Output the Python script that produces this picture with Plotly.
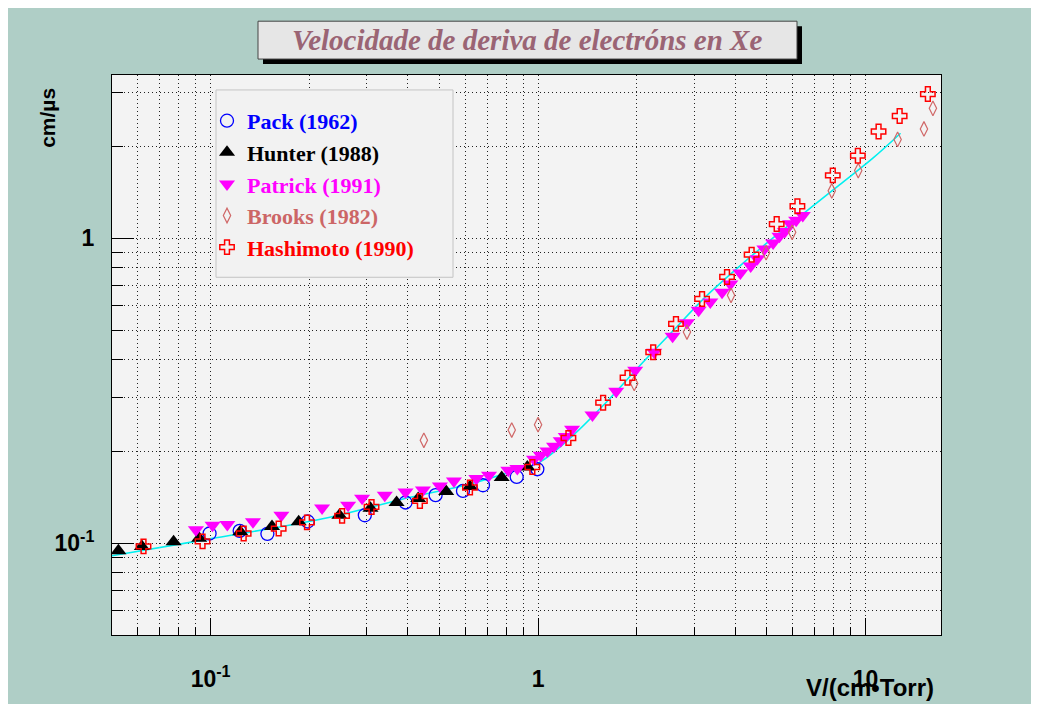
import math
import plotly.graph_objects as go

# ---------------- data ----------------
pack_x = [0.0993, 0.1227, 0.1491, 0.198, 0.2958, 0.3938, 0.4866, 0.5898, 0.6789, 0.8607, 0.995]
pack_y = [0.1076, 0.1098, 0.1073, 0.1178, 0.1235, 0.136, 0.1437, 0.1484, 0.1549, 0.1649, 0.1748]

hunter_x = [0.0523, 0.0617, 0.0771, 0.0923, 0.1232, 0.154, 0.1858, 0.2474, 0.3078,
            0.3698, 0.4304, 0.5242, 0.6195, 0.7745, 0.9275]
hunter_y = [0.0944, 0.0976, 0.1011, 0.1039, 0.109, 0.1135, 0.1175, 0.1235, 0.1302,
            0.136, 0.1401, 0.1477, 0.1534, 0.1642, 0.1778]

patrick_x = [0.0902, 0.1014, 0.1125, 0.1347, 0.1645, 0.219, 0.263, 0.2902, 0.3404, 0.3938,
             0.4451, 0.5015, 0.5535, 0.6477, 0.7082, 0.8112, 0.8643, 0.972, 1.019, 1.068,
             1.119, 1.173, 1.215, 1.27, 1.466, 1.732, 1.98, 2.263, 2.575, 2.849,
             3.092, 3.357, 3.646, 3.865, 4.147, 4.459, 4.675, 4.911, 5.221, 5.458,
             5.673, 5.885, 6.14, 6.432]
patrick_y = [0.1106, 0.1146, 0.1152, 0.1175, 0.1235, 0.1305, 0.1332, 0.1405, 0.1437, 0.1473,
             0.1495, 0.1541, 0.16, 0.1629, 0.167, 0.1734, 0.1757, 0.1884, 0.1942, 0.2006,
             0.2078, 0.2167, 0.2236, 0.2362, 0.2634, 0.3152, 0.3693, 0.4229, 0.4772, 0.5279,
             0.5804, 0.6174, 0.6647, 0.7081, 0.7692, 0.8111, 0.8568, 0.9219, 0.9645, 1.015,
             1.053, 1.115, 1.145, 1.187]

brooks_x = [0.448, 0.831, 1.0, 1.966, 2.849, 3.884, 4.97, 5.969, 7.887, 9.5, 12.53, 15.08, 16.06]
brooks_y = [0.2175, 0.235, 0.2447, 0.3342, 0.4925, 0.6499, 0.8966, 1.046, 1.43, 1.667, 2.109, 2.282, 2.667]

hashimoto_x = [0.0624, 0.0945, 0.1262, 0.1614, 0.197, 0.2521, 0.3101, 0.4357, 0.6195, 0.9607,
               1.238, 1.58, 1.876, 2.247, 2.637, 3.168, 3.776, 4.489, 5.354, 6.194,
               7.943, 9.474, 10.96, 12.71, 15.5]
hashimoto_y = [0.0976, 0.1014, 0.1076, 0.1117, 0.117, 0.1229, 0.1315, 0.1376, 0.1523, 0.1778,
               0.2213, 0.2889, 0.3488, 0.4229, 0.5239, 0.6324, 0.7465, 0.8831, 1.113, 1.273,
               1.608, 1.865, 2.239, 2.517, 2.971]

fit_x = [0.05, 0.0986, 0.2296, 0.3846, 0.615, 0.875, 1.007, 1.273, 1.611, 2.037, 2.575,
         3.257, 4.119, 5.207, 6.587, 8.327, 10.53, 12.79]
fit_y = [0.091, 0.1031, 0.1215, 0.1394, 0.1561, 0.1748, 0.1838, 0.2246, 0.2889, 0.3805, 0.4955,
         0.645, 0.8087, 1.0, 1.224, 1.496, 1.83, 2.209]

x_major = [0.1, 1, 10]
x_major_text = ["10<sup>-1</sup>", "1", "10"]
x_minor = [0.06, 0.07, 0.08, 0.09, 0.2, 0.3, 0.4, 0.5, 0.6, 0.7, 0.8, 0.9,
           2, 3, 4, 5, 6, 7, 8, 9]
y_major = [0.1, 1]
y_major_text = ["10<sup>-1</sup>", "1"]
y_minor = [0.06, 0.07, 0.08, 0.09, 0.2, 0.3, 0.4, 0.5, 0.6, 0.7, 0.8, 0.9, 2, 3]

title_text = "Velocidade de deriva de electróns en Xe"
x_title = "V/(cm•Torr)"
y_title = "cm/µs"

# ---------------- layout geometry (pixels) ----------------
OFF = 8                      # page body margin in the browser
W, H = 1039 - OFF, 704 - OFF
L, T = 112 - OFF, 75 - OFF
R = W - (941 - OFF)
B = H - (637 - OFF)
PW, PH = W - L - R, H - T - B


def px(xs):
    """screen x (page pixels) -> paper x"""
    return (xs - OFF - L) / PW


def py(ys):
    """screen y (page pixels) -> paper y"""
    return (H - B - (ys - OFF)) / PH


BG = "#afcec6"
PLOT_BG = "#f3f3f3"
GRID = "#222222"
SERIF = "Liberation Serif"
SANS = "Liberation Sans"

fig = go.Figure()

fig.add_trace(go.Scatter(x=fit_x, y=fit_y, mode="lines", line=dict(color="#00f0f0", width=1.6, shape="spline"),
                         showlegend=False, hoverinfo="skip"))


def lab(txt, col):
    return '<span style="color:%s">%s</span>' % (col, txt)


fig.add_trace(go.Scatter(x=pack_x, y=pack_y, mode="markers", name=lab("Pack (1962)", "#0000ff"),
                         marker=dict(symbol="circle-open", size=13, color="#0000ff", line=dict(width=1.3))))
fig.add_trace(go.Scatter(x=hunter_x, y=hunter_y, mode="markers", name=lab("Hunter (1988)", "#000000"),
                         marker=dict(symbol="triangle-up", size=14, color="#000000")))
fig.add_trace(go.Scatter(x=patrick_x, y=patrick_y, mode="markers", name=lab("Patrick (1991)", "#ff00ff"),
                         marker=dict(symbol="triangle-down", size=14, color="#ff00ff")))
fig.add_trace(go.Scatter(x=brooks_x, y=brooks_y, mode="markers", name=lab("Brooks (1982)", "#cc6666"),
                         marker=dict(symbol="diamond-tall-open", size=10.5, color="#d06868", line=dict(width=1.2))))
fig.add_trace(go.Scatter(x=hashimoto_x, y=hashimoto_y, mode="markers", name=lab("Hashimoto (1990)", "#ff0000"),
                         marker=dict(symbol="cross-open", size=12, color="#ff0000", line=dict(width=1.5))))

axis_common = dict(
    type="log", tickmode="array", ticks="inside", tickcolor="black", tickwidth=1,
    showgrid=True, gridcolor=GRID, gridwidth=1, griddash="1px,3px",
    showline=True, linecolor="black", linewidth=1, mirror=True, zeroline=False,
    tickfont=dict(family=SANS, size=23, color="black", weight="bold"),
)

fig.update_layout(
    width=W, height=H, autosize=False,
    margin=dict(l=L, r=R, t=T, b=B, pad=0),
    paper_bgcolor=BG, plot_bgcolor=PLOT_BG,
    xaxis=dict(axis_common, range=[math.log10(0.05), math.log10(17)],
               tickvals=x_major, ticktext=x_major_text, ticklen=17, ticklabelstandoff=23,
               minor=dict(tickmode="array", tickvals=x_minor, ticks="inside", ticklen=8, tickcolor="black",
                          showgrid=True, gridcolor=GRID, gridwidth=1, griddash="1px,3px")),
    yaxis=dict(axis_common, range=[math.log10(0.05), math.log10(3.43)],
               tickvals=y_major, ticktext=y_major_text, ticklen=22, ticklabelstandoff=12,
               minor=dict(tickmode="array", tickvals=y_minor, ticks="inside", ticklen=11, tickcolor="black",
                          showgrid=True, gridcolor=GRID, gridwidth=1, griddash="1px,3px")),
    showlegend=True,
    legend=dict(x=px(207), y=py(100), xanchor="left", yanchor="top", bgcolor="rgba(0,0,0,0)",
                borderwidth=0, font=dict(family=SERIF, size=22, weight="bold"), traceorder="normal"),
    shapes=[
        dict(type="rect", xref="paper", yref="paper", x0=px(263), x1=px(802), y0=py(64), y1=py(26),
             fillcolor="black", line=dict(width=0), layer="above"),
        dict(type="rect", xref="paper", yref="paper", x0=px(258), x1=px(797), y0=py(59), y1=py(21),
             fillcolor="#e6e6e6", line=dict(color="#444444", width=1), layer="above"),
        dict(type="rect", xref="paper", yref="paper", x0=px(216), x1=px(453), y0=py(278), y1=py(90),
             fillcolor="#f2f2f2", line=dict(color="#c4c4c4", width=1), layer="above"),
    ],
    annotations=[
        dict(text="<b><i>%s</i></b>" % title_text, xref="paper", yref="paper", x=px(527), y=py(40),
             xanchor="center", yanchor="middle", showarrow=False,
             font=dict(family=SERIF, size=29, color="#9a6474")),
        dict(text="<b>%s</b>" % y_title, xref="paper", yref="paper", x=px(48), y=py(118),
             xanchor="center", yanchor="middle", textangle=-90, showarrow=False,
             font=dict(family=SANS, size=21, color="black")),
        dict(text="<b>%s</b>" % x_title, xref="paper", yref="paper", x=px(936), y=py(690),
             xanchor="right", yanchor="middle", showarrow=False,
             font=dict(family=SANS, size=24, color="black")),
    ],
)

fig.write_html("out.html")
